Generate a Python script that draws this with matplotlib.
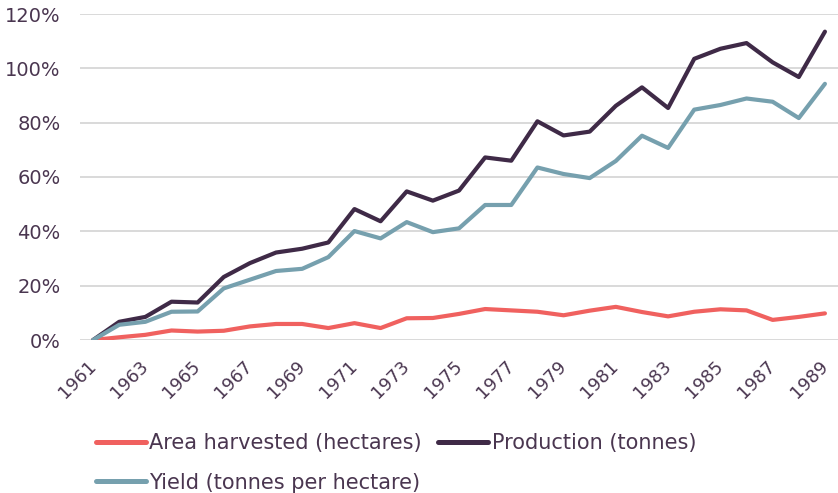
import matplotlib
matplotlib.use("Agg")
import matplotlib.pyplot as plt
import matplotlib.transforms as mtransforms
import numpy as np

years = [str(y) for y in range(1961, 1990)]
area = [0, 1.0, 1.9, 3.5, 3.1, 3.4, 5.0, 5.9, 5.9, 4.4, 6.2, 4.4, 8.0, 8.1, 9.6,
        11.4, 10.9, 10.4, 9.1, 10.8, 12.2, 10.3, 8.7, 10.4, 11.3, 10.9, 7.4, 8.5, 9.8]
production = [0, 6.7, 8.5, 14.1, 13.8, 23.2, 28.3, 32.2, 33.6, 35.9, 48.2, 43.7, 54.7,
              51.3, 55.0, 67.2, 66.0, 80.5, 75.3, 76.7, 86.2, 93.0, 85.4, 103.5, 107.2,
              109.3, 102.2, 96.8, 113.5]
yield_ = [0, 5.6, 6.7, 10.4, 10.5, 19.0, 22.2, 25.4, 26.2, 30.5, 40.1, 37.4, 43.4,
          39.7, 41.1, 49.7, 49.7, 63.5, 61.1, 59.6, 65.9, 75.2, 70.7, 84.8, 86.5,
          88.9, 87.7, 81.7, 94.3]
yticks = [0, 20, 40, 60, 80, 100, 120]

plt.rcParams['font.family'] = ['DejaVu Sans']
txt = '#4a3650'

fig = plt.figure(figsize=(8.38, 4.93), dpi=100)
ax = fig.add_axes([80/838, 1-340/493, 758/838, 326/493])
x = np.arange(len(years))
kw = dict(lw=3.0, solid_capstyle='round', solid_joinstyle='round', zorder=3)
l_area, = ax.plot(x, area, color='#f0615f', label='Area harvested (hectares)', **kw)
l_prod, = ax.plot(x, production, color='#3f2a47', label='Production (tonnes)', **kw)
l_yield, = ax.plot(x, yield_, color='#76a0ae', label='Yield (tonnes per hectare)', **kw)

ax.set_xlim(-0.5, len(years) - 0.5)
ax.set_ylim(0, 120)
ax.set_yticks(yticks)
ax.set_yticklabels([f'{v}%' for v in yticks], color=txt, fontsize=14)
ax.set_xticks(x[::2])
ax.set_xticklabels(years[::2], rotation=45, ha='right', va='center', rotation_mode='anchor',
                   color=txt, fontsize=12.8)
off = mtransforms.ScaledTranslation(6/100, 0, fig.dpi_scale_trans)
for lab in ax.get_xticklabels():
    lab.set_transform(lab.get_transform() + off)
ax.tick_params(axis='both', length=0)
ax.tick_params(axis='y', pad=14)
ax.tick_params(axis='x', pad=17)
ax.grid(axis='y', color='#d9d9d9', lw=1.4)
ax.set_axisbelow(True)
for s in ax.spines.values():
    s.set_visible(False)

leg = fig.legend(handles=[l_area, l_yield, l_prod],
                 loc='upper left', bbox_to_anchor=(96/838, 1-433/493), ncol=2,
                 frameon=False, fontsize=15, handlelength=2.4, handletextpad=0.15,
                 columnspacing=0.8, labelspacing=0.95, borderaxespad=0, borderpad=0)
for t in leg.get_texts():
    t.set_color(txt)
for h in leg.get_lines():
    h.set_linewidth(3.6)

fig.savefig('out.png', dpi=100)
